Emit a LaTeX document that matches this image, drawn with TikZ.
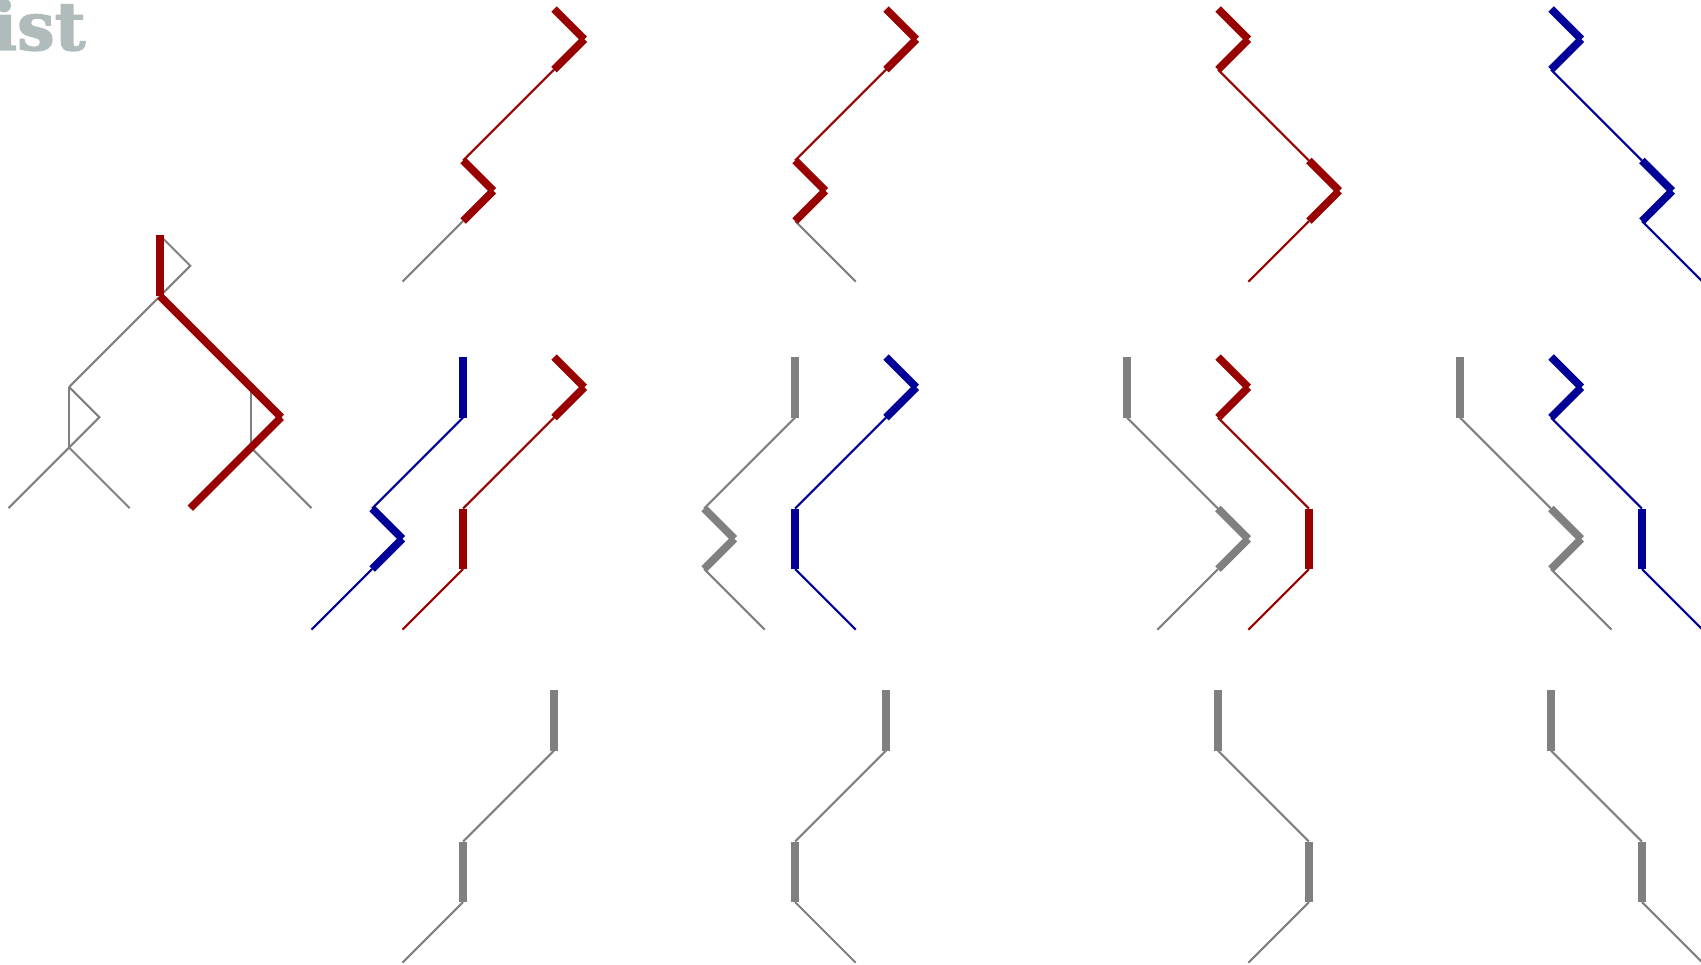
\documentclass[tikz,border=0pt]{standalone}
\usepackage{fontspec}
\usepackage{tikz}
\usetikzlibrary{positioning}
\newfontfamily\brandfont{DejaVu Serif}[BoldFeatures={FakeBold=2}]
\definecolor{pathred}{RGB}{153,0,0}
\definecolor{pathblue}{RGB}{0,0,153}
\definecolor{pathgray}{RGB}{128,128,128}
\definecolor{logogray}{RGB}{176,188,188}
\tikzstyle{heavyline} = [line width=2.2pt]
\tikzstyle{lightline} = [line width=0.6pt]
\tikzstyle{logo} = [inner sep=0pt, text=logogray,
    font=\brandfont\bfseries\fontsize{19}{19}\selectfont]
\def\lvl{30.3}
% points of one walk: root node (r), child node (c), leaf (l)
\newcommand{\setwalk}[5]{%
  \coordinate (#1r-t) at (#2,#3);
  \coordinate (#1r-k) at (#2+\lvl,#3+\lvl);
  \coordinate (#1r-b) at (#2,#3+2*\lvl);
  \coordinate (#1c-t) at (#2+#4*3*\lvl,#3+5*\lvl);
  \coordinate (#1c-k) at (#2+#4*3*\lvl+\lvl,#3+6*\lvl);
  \coordinate (#1c-b) at (#2+#4*3*\lvl,#3+7*\lvl);
  \coordinate (#1l) at (#2+#4*3*\lvl+#5*2*\lvl,#3+9*\lvl);}
\newcommand{\straightnode}[2]{\draw[#2] (#1-t) -- (#1-b);}
\newcommand{\kinknode}[2]{\draw[#2] (#1-t) -- (#1-k); \draw[#2] (#1-k) -- (#1-b);}
\newcommand{\drawwalk}[9]{%
  \setwalk{#1}{#2}{#3}{#4}{#5}
  \draw[lightline,#8] (#1r-b) -- (#1c-t);
  \draw[lightline,#9] (#1c-b) -- (#1l);
  \csname #6node\endcsname{#1r}{heavyline,#8}
  \csname #7node\endcsname{#1c}{heavyline,#8}}
\begin{document}
\begin{tikzpicture}[x=0.01cm, y=-0.01cm]
  \useasboundingbox (0,0) rectangle (1701,964);
  \clip (0,0) rectangle (1701,964);
  \node[logo, anchor=base west] (brand) at (-9,50) {ist};
  % the tree
  \setwalk{A}{160}{235.5}{-1}{-1}
  \setwalk{B}{160}{235.5}{-1}{1}
  \setwalk{C}{160}{235.5}{1}{-1}
  \setwalk{D}{160}{235.5}{1}{1}
  \draw[lightline,pathgray] (Ar-t) -- (Ar-b);
  \draw[lightline,pathgray] (Ar-t) -- (Ar-k) -- (Ar-b);
  \draw[lightline,pathgray] (Ar-b) -- (Ac-t);
  \draw[lightline,pathgray] (Ar-b) -- (Cc-t);
  \draw[lightline,pathgray] (Ac-t) -- (Ac-b);
  \draw[lightline,pathgray] (Ac-t) -- (Ac-k) -- (Ac-b);
  \draw[lightline,pathgray] (Ac-b) -- (Al);
  \draw[lightline,pathgray] (Ac-b) -- (Bl);
  \draw[lightline,pathgray] (Cc-t) -- (Cc-b);
  \draw[lightline,pathgray] (Cc-t) -- (Cc-k) -- (Cc-b);
  \draw[lightline,pathgray] (Cc-b) -- (Cl);
  \draw[lightline,pathgray] (Cc-b) -- (Dl);
  \draw[heavyline,pathred] (Cr-t) -- (Cr-b);
  \draw[heavyline,pathred] (Cr-b) -- (Cc-t) -- (Cc-k);
  \draw[heavyline,pathred] (Cc-k) -- (Cc-b) -- (Cl);
  % top row
  \drawwalk{T1}{554}{9}{-1}{-1}{kink}{kink}{pathred}{pathgray}
  \drawwalk{T2}{886}{9}{-1}{1}{kink}{kink}{pathred}{pathgray}
  \drawwalk{T3}{1218}{9}{1}{-1}{kink}{kink}{pathred}{pathred}
  \drawwalk{T4}{1551}{9}{1}{1}{kink}{kink}{pathblue}{pathblue}
  % middle row
  \drawwalk{M1}{463}{357}{-1}{-1}{straight}{kink}{pathblue}{pathblue}
  \drawwalk{M2}{554}{357}{-1}{-1}{kink}{straight}{pathred}{pathred}
  \drawwalk{M3}{795}{357}{-1}{1}{straight}{kink}{pathgray}{pathgray}
  \drawwalk{M4}{886}{357}{-1}{1}{kink}{straight}{pathblue}{pathblue}
  \drawwalk{M5}{1127}{357}{1}{-1}{straight}{kink}{pathgray}{pathgray}
  \drawwalk{M6}{1218}{357}{1}{-1}{kink}{straight}{pathred}{pathred}
  \drawwalk{M7}{1460}{357}{1}{1}{straight}{kink}{pathgray}{pathgray}
  \drawwalk{M8}{1551}{357}{1}{1}{kink}{straight}{pathblue}{pathblue}
  % bottom row
  \drawwalk{B1}{554}{690}{-1}{-1}{straight}{straight}{pathgray}{pathgray}
  \drawwalk{B2}{886}{690}{-1}{1}{straight}{straight}{pathgray}{pathgray}
  \drawwalk{B3}{1218}{690}{1}{-1}{straight}{straight}{pathgray}{pathgray}
  \drawwalk{B4}{1551}{690}{1}{1}{straight}{straight}{pathgray}{pathgray}
\end{tikzpicture}
\end{document}
